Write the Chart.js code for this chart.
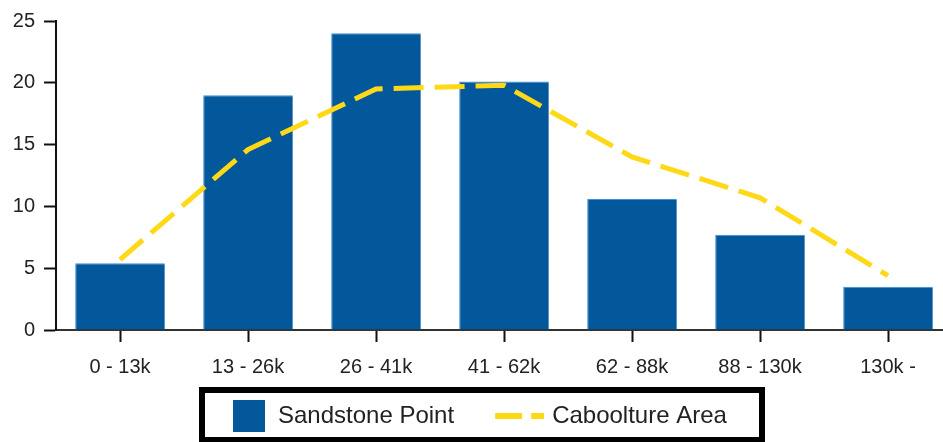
<!DOCTYPE html>
<html>
<head>
<meta charset="utf-8">
<script src="https://cdn.jsdelivr.net/npm/chart.js@4/dist/chart.umd.min.js"></script>
<style>
  html, body { margin: 0; padding: 0; background: #fff; overflow: hidden; }
  #wrap { width: 952px; height: 442px; position: relative; }
  canvas { display: block; }
</style>
</head>
<body>
<div id="wrap"><canvas id="c" width="952" height="442"></canvas></div>
<script>
const categories = ['0 - 13k', '13 - 26k', '26 - 41k', '41 - 62k', '62 - 88k', '88 - 130k', '130k -'];
const sandstonePoint = [5.4, 19.0, 24.0, 20.1, 10.6, 7.7, 3.5];
const cabooltureArea = [5.7, 14.6, 19.5, 19.8, 14.0, 10.7, 4.4];
const yTicks = [0, 5, 10, 15, 20, 25];

const BAR_COLOR = '#03579B';
const LINE_COLOR = '#FFD816';
const FONT = '"Liberation Sans", Arial, sans-serif';

const framedLegend = {
  id: 'framedLegend',
  afterDraw(chart) {
    const ctx = chart.ctx;
    const ds = chart.data.datasets;
    const barDs = ds.find(d => d.type === 'bar');
    const lineDs = ds.find(d => d.type === 'line');
    ctx.save();
    ctx.font = '24px ' + FONT;
    ctx.textBaseline = 'middle';
    const cy = 416;
    let x = 233;
    // bar item
    ctx.fillStyle = barDs.backgroundColor;
    ctx.fillRect(x, cy - 16, 32, 32);
    x += 32 + 13;
    ctx.fillStyle = '#222';
    ctx.fillText(barDs.label, x, cy);
    x += ctx.measureText(barDs.label).width + 41;
    // line item
    ctx.strokeStyle = lineDs.borderColor;
    ctx.lineWidth = 6;
    ctx.setLineDash([27, 9]);
    ctx.beginPath();
    ctx.moveTo(x, cy);
    ctx.lineTo(x + 49, cy);
    ctx.stroke();
    ctx.setLineDash([]);
    x += 49 + 8;
    ctx.fillStyle = '#222';
    ctx.fillText(lineDs.label, x, cy);
    // frame
    ctx.strokeStyle = '#000';
    ctx.lineWidth = 6;
    ctx.strokeRect(202, 390, 560, 50);
    ctx.restore();
  }
};

new Chart(document.getElementById('c'), {
  data: {
    labels: categories,
    datasets: [
      {
        type: 'line',
        label: 'Caboolture Area',
        data: cabooltureArea,
        borderColor: LINE_COLOR,
        backgroundColor: LINE_COLOR,
        borderWidth: 5,
        borderDash: [30, 11],
        pointRadius: 0,
        tension: 0,
        fill: false,
        order: 0
      },
      {
        type: 'bar',
        label: 'Sandstone Point',
        data: sandstonePoint,
        backgroundColor: BAR_COLOR,
        borderColor: '#3D8FD6',
        borderWidth: { top: 1, left: 1, right: 0, bottom: 0 },
        borderSkipped: false,
        categoryPercentage: 1.0,
        barPercentage: 0.70,
        order: 1
      }
    ]
  },
  options: {
    responsive: false,
    animation: false,
    layout: { padding: { top: 20, right: 0, bottom: 54, left: 0 } },
    plugins: {
      legend: { display: false },
      tooltip: { enabled: false }
    },
    scales: {
      x: {
        offset: true,
        grid: { display: true, drawOnChartArea: false, offset: false, tickLength: 12, tickColor: '#111', tickWidth: 2 },
        border: { display: true, color: '#333', width: 2 },
        ticks: { font: { family: FONT, size: 20 }, color: '#222', padding: 13, maxRotation: 0, autoSkip: false },
        afterFit(scale) { scale.height = 58; }
      },
      y: {
        min: 0,
        max: 25,
        afterBuildTicks(scale) { scale.ticks = yTicks.map(v => ({ value: v })); },
        grid: { display: true, drawOnChartArea: false, tickLength: 12, tickColor: '#111', tickWidth: 2 },
        border: { display: true, color: '#111', width: 2 },
        ticks: { font: { family: FONT, size: 20 }, color: '#222', padding: 9 },
        afterFit(scale) { scale.width = 56; }
      }
    }
  },
  plugins: [framedLegend]
});
</script>
</body>
</html>
